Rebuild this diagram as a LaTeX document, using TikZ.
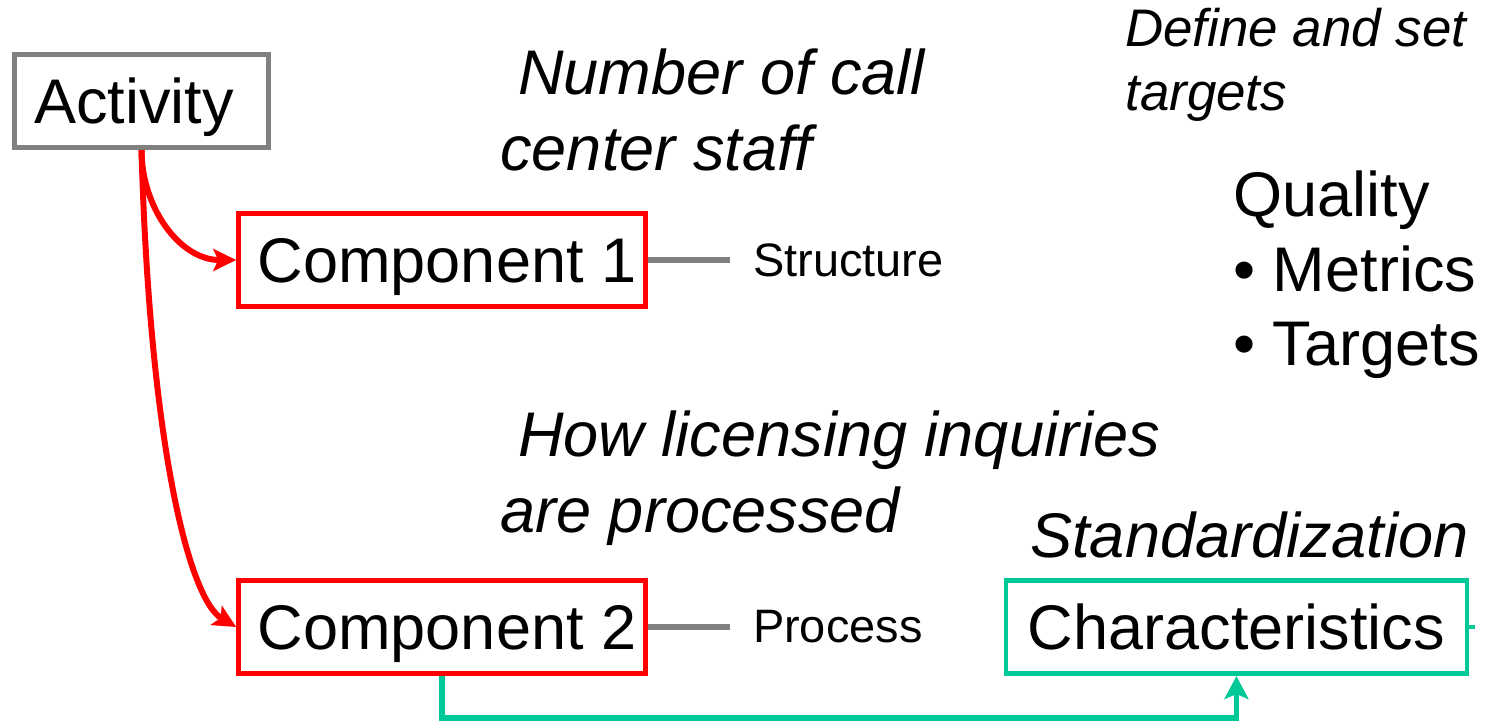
\documentclass[tikz,border=0pt]{standalone}
\usepackage{fontspec}
\setmainfont{Liberation Sans}
\usepackage{tikz}
\usetikzlibrary{arrows.meta,positioning}
\definecolor{boxgray}{RGB}{128,128,128}
\definecolor{boxred}{RGB}{255,0,0}
\definecolor{boxgreen}{RGB}{0,200,150}

\begin{document}
\begin{tikzpicture}[x=0.02cm, y=-0.02cm,
    box/.style={draw, line width=2.6pt, minimum height=1.87cm,
                inner sep=0pt, text depth=0pt, font=\fontsize{35.9}{43}\selectfont},
    note/.style={inner sep=0pt, align=left,
                 font=\fontsize{35.9}{43}\selectfont\itshape},
    tag/.style={inner xsep=0.46cm, inner ysep=0pt,
                font=\fontsize{26.7}{32}\selectfont},
    redarr/.style={-{Stealth[length=0.46cm, width=0.44cm, inset=0.1cm]},
                   line width=3.4pt, boxred},
    greenarr/.style={-{Stealth[length=0.46cm, width=0.48cm, inset=0.1cm]},
                     line width=3.2pt, boxgreen},
    link/.style={line width=3pt, boxgray}
]
\useasboundingbox (0,0) rectangle (1486,725);

\node[box, draw=boxgray, minimum width=5.08cm] (act) at (141.5,101) {\hspace*{-0.3cm}Activity};
\node[box, draw=boxred, minimum width=8.14cm] (c1) at (442,260) {\hspace*{0.2cm}Component 1};
\node[box, draw=boxred, minimum width=8.14cm, below=5.38cm of c1] (c2) {\hspace*{0.2cm}Component 2};
\node[box, draw=boxgreen, minimum width=9.22cm, right=7.12cm of c2] (char) {Characteristics};

\node[tag, right=1.64cm of c1] (struct) {Structure};
\node[tag, right=1.64cm of c2] (proc) {Process};

\draw[link] (c1) -- (struct);
\draw[link] (c2) -- (proc);

% activity splits into its components
\draw[redarr] (act.south) to[out=-90, in=180] (c1.west);
\draw[redarr] (act.south) .. controls (150,450) and (190,600) .. (c2.west);

\draw[greenarr] (c2.south) -- ++(0,42) -| (char.south);
\draw[boxgreen, line width=2.6pt] (char.east) -- ++(6,0);

\node[note, anchor=west] (staff) at (500,110) {\hspace*{0.36cm}Number of call\\center staff};
\node[note, anchor=west] (inq) at (500,478) {\hspace*{0.36cm}How licensing inquiries\\are processed};
\node[note, anchor=west] (std) at (1030,535) {Standardization};
\node[note, anchor=west, font=\fontsize{30.1}{36.3}\selectfont\itshape] (define) at (1125,65) {Define and set\\targets};
\node[anchor=west, align=left, inner sep=0pt,
      font=\fontsize{35.9}{42.5}\selectfont] (quality) at (1233,275) {Quality\\• Metrics\\• Targets};
\end{tikzpicture}
\end{document}
